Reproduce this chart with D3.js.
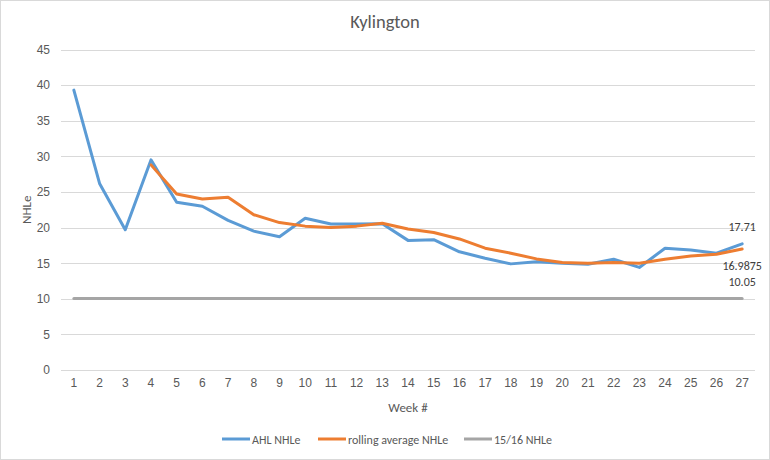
<!DOCTYPE html>
<html>
<head>
<meta charset="utf-8">
<script src="https://cdn.jsdelivr.net/npm/d3@7"></script>
<style>
  html, body { margin: 0; padding: 0; background: #fff; }
  svg { display: block; font-family: Carlito, Calibri, "Open Sans", sans-serif; }
</style>
</head>
<body>
<svg id="chart" width="770" height="460"></svg>
<script>
const weeks = d3.range(1, 28).map(String);
const ahl = [39.3, 26.2, 19.7, 29.5, 23.55, 23.0, 21.0, 19.5, 18.7, 21.3, 20.5, 20.5, 20.55, 18.2, 18.3, 16.6, 15.7, 14.9, 15.2, 15.0, 14.85, 15.55, 14.4, 17.1, 16.85, 16.4, 17.71];
const rolling = [null, null, null, 28.8, 24.7, 24.0, 24.25, 21.8, 20.7, 20.2, 20.0, 20.2, 20.6, 19.8, 19.3, 18.4, 17.1, 16.4, 15.6, 15.1, 15.0, 15.1, 15.0, 15.55, 16.0, 16.25, 16.9875];
const prev = weeks.map(() => 10.05);
const yTicks = [0, 5, 10, 15, 20, 25, 30, 35, 40, 45];
const seriesNames = ["AHL NHLe", "rolling average NHLe", "15/16 NHLe"];
const colors = ["#5B9BD5", "#ED7D31", "#A5A5A5"];
const lastLabels = ["17.71", "16.9875", "10.05"];

(function () {
const svg = d3.select("#chart");
const W = 770, H = 460;
svg.append("rect").attr("x", 0.5).attr("y", 0.5).attr("width", W - 1).attr("height", H - 1)
  .attr("fill", "#fff").attr("stroke", "#d9d9d9");

const pL = 61, pR = 755, pT = 49.5, pB = 370;
const x = d3.scaleBand().domain(weeks).range([pL, pR]);
const y = d3.scaleLinear().domain([0, 45]).range([pB, pT]);
const cx = d => x(d) + x.bandwidth() / 2;

// gridlines
svg.append("g").selectAll("line").data(yTicks).join("line")
  .attr("x1", pL).attr("x2", pR)
  .attr("y1", d => Math.round(y(d)) + 0.5).attr("y2", d => Math.round(y(d)) + 0.5)
  .attr("stroke", "#d9d9d9").attr("stroke-width", 1);

// y axis labels
const yAxis = d3.axisLeft(y).tickValues(yTicks).tickSize(0).tickPadding(0);
const gy = svg.append("g").attr("transform", `translate(${pL - 11},0)`).call(yAxis);
gy.select(".domain").remove();
gy.selectAll("text").attr("fill", "#595959").style("font-size", "12px").style("font-family", "inherit");

// x axis labels
const xAxis = d3.axisBottom(x).tickSize(0).tickPadding(0);
const gx = svg.append("g").attr("transform", `translate(0,${pB + 8})`).call(xAxis);
gx.select(".domain").remove();
gx.selectAll("text").attr("fill", "#595959").style("font-size", "12px").style("font-family", "inherit");

// titles
svg.append("text").attr("x", 385).attr("y", 28).attr("text-anchor", "middle")
  .attr("fill", "#595959").style("font-size", "18.5px").text("Kylington");
svg.append("text").attr("x", (pL + pR) / 2).attr("y", 412).attr("text-anchor", "middle")
  .attr("fill", "#595959").style("font-size", "13px").text("Week #");
svg.append("text").attr("transform", `translate(31,${(pT + pB) / 2}) rotate(-90)`)
  .attr("text-anchor", "middle").attr("fill", "#595959").style("font-size", "13px").text("NHLe");

// lines
const allSeries = [ahl, rolling, prev];
const line = d3.line().defined(d => d.v != null).x(d => cx(d.w)).y(d => y(d.v));
[2, 0, 1].forEach(i => {
  const data = weeks.map((w, j) => ({ w, v: allSeries[i][j] }));
  svg.append("path").datum(data).attr("d", line)
    .attr("fill", "none").attr("stroke", colors[i]).attr("stroke-width", 3)
    .attr("stroke-linejoin", "round").attr("stroke-linecap", "round");
});

// data labels at last point
const lastW = weeks[weeks.length - 1];
const offsets = [-13, 21, -12];
allSeries.forEach((s, i) => {
  svg.append("text").attr("x", cx(lastW)).attr("y", y(s[s.length - 1]) + offsets[i])
    .attr("text-anchor", "middle").attr("fill", "#404040").style("font-size", "12px")
    .text(lastLabels[i]);
});

// legend
const legendItems = [
  { x1: 222, x2: 250, tx: 252 },
  { x1: 318, x2: 346, tx: 348 },
  { x1: 464, x2: 492, tx: 494 }
];
const lg = svg.append("g");
legendItems.forEach((it, i) => {
  lg.append("line").attr("x1", it.x1).attr("x2", it.x2).attr("y1", 439).attr("y2", 439)
    .attr("stroke", colors[i]).attr("stroke-width", 3);
  lg.append("text").attr("x", it.tx).attr("y", 443.5).attr("fill", "#595959")
    .style("font-size", "12px").text(seriesNames[i]);
});
})();
</script>
</body>
</html>
